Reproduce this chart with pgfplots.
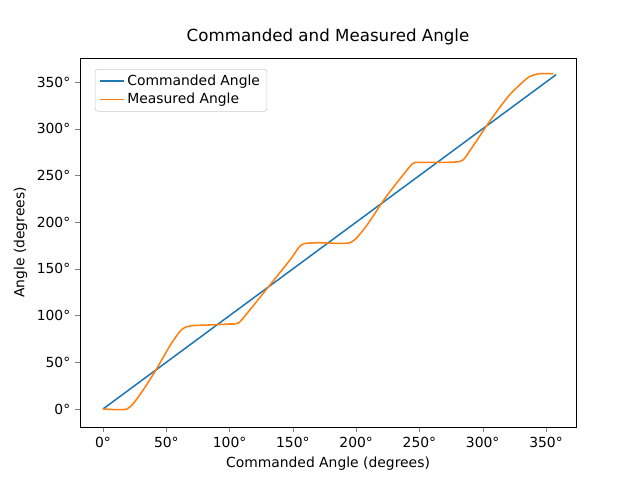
\documentclass[border=0pt]{standalone}
\usepackage{fontspec}
\setmainfont{DejaVu Sans}
\usepackage{pgfplots}
\pgfplotsset{compat=1.18}
\usetikzlibrary{calc}
\definecolor{c0}{HTML}{1F77B4}
\definecolor{c1}{HTML}{FF7F0E}
\begin{document}
\begin{tikzpicture}
\begin{axis}[name=ax, scale only axis, width=357.12pt, height=265.68pt,
 xmin=-18.2, xmax=373.7, ymin=-19.3, ymax=375.8,
 xtick={0,50,...,350}, ytick={0,50,...,350},
 xticklabel={\pgfmathprintnumber{\tick}°}, yticklabel={\pgfmathprintnumber{\tick}°},
 /pgf/number format/assume math mode=true,
 tick align=outside, tick pos=left, major tick length=3.5pt,
 ticklabel style={font=\fontsize{10}{12}\selectfont},
 label style={font=\fontsize{10}{12}\selectfont},
 xlabel={Commanded Angle (degrees)}, ylabel={Angle (degrees)},
 title={Commanded and Measured Angle}, title style={font=\fontsize{12}{14}\selectfont},
 legend pos=north west, legend cell align=left,
 legend style={font=\fontsize{10}{12}\selectfont, draw=black!20, rounded corners=2pt},
 every axis plot/.append style={line width=1.1pt}]
\addplot[c0] coordinates {(0,0) (358,358)};
\addlegendentry{Commanded Angle}
\addplot[c1, smooth, tension=0.4] coordinates {(0,0) (19,0) (29,15) (41,40) (53,68) (62,85) (69,89) (85,90) (100,91) (107,92) (116,106) (132,133) (148,160) (157,176) (170,178) (195,178) (207,194) (223,226) (235,247) (245,263) (254,264) (282,265) (290,277) (306,309) (321,336) (336,355) (345,359) (356,359)};
\addlegendentry{Measured Angle}
\end{axis}
\path[use as bounding box] ($(ax.south west)+(-57.6pt,-38.16pt)$) rectangle ($(ax.north east)+(46.08pt,41.76pt)$);
\end{tikzpicture}
\end{document}
